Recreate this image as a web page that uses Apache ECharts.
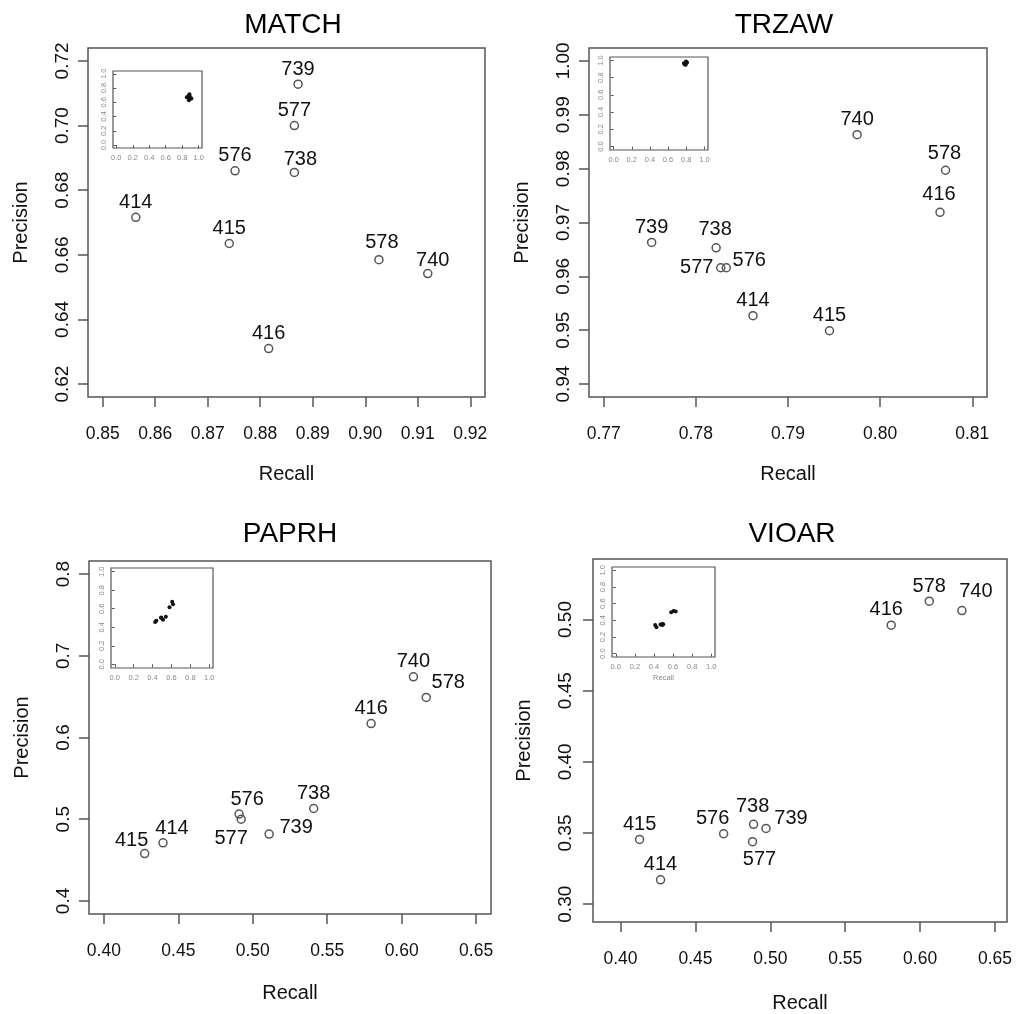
<!DOCTYPE html>
<html>
<head>
<meta charset="utf-8">
<script src="https://cdn.jsdelivr.net/npm/echarts@6/dist/echarts.min.js"></script>
<style>html,body{margin:0;padding:0;background:#fff}#c{width:1018px;height:1014px}</style>
</head>
<body>
<div id="c"></div>
<script>
// ---- data ----
const sites = ['414','415','416','576','577','578','738','739','740'];

const matchRecall    = [0.8563, 0.8741, 0.8816, 0.8752, 0.8865, 0.9026, 0.8865, 0.8872, 0.9119];
const matchPrecision = [0.6716, 0.6635, 0.6310, 0.6860, 0.7000, 0.6585, 0.6855, 0.7128, 0.6542];

const trzawRecall    = [0.7862, 0.7945, 0.8065, 0.7833, 0.7827, 0.8071, 0.7822, 0.7752, 0.7975];
const trzawPrecision = [0.9527, 0.9499, 0.9719, 0.9616, 0.9616, 0.9797, 0.9653, 0.9663, 0.9863];

const paprhRecall    = [0.4397, 0.4274, 0.5795, 0.4908, 0.4922, 0.6165, 0.5409, 0.5110, 0.6079];
const paprhPrecision = [0.4711, 0.4580, 0.6171, 0.5063, 0.5001, 0.6490, 0.5131, 0.4818, 0.6743];

const vioarRecall    = [0.4267, 0.4127, 0.5807, 0.4688, 0.4881, 0.6061, 0.4888, 0.4971, 0.6279];
const vioarPrecision = [0.3171, 0.3455, 0.4960, 0.3495, 0.3439, 0.5129, 0.3561, 0.3532, 0.5063];

const matchXTicks = [0.85, 0.86, 0.87, 0.88, 0.89, 0.90, 0.91, 0.92];
const matchYTicks = [0.62, 0.64, 0.66, 0.68, 0.70, 0.72];
const trzawXTicks = [0.77, 0.78, 0.79, 0.80, 0.81];
const trzawYTicks = [0.94, 0.95, 0.96, 0.97, 0.98, 0.99, 1.00];
const paprhXTicks = [0.40, 0.45, 0.50, 0.55, 0.60, 0.65];
const paprhYTicks = [0.4, 0.5, 0.6, 0.7, 0.8];
const vioarXTicks = [0.40, 0.45, 0.50, 0.55, 0.60, 0.65];
const vioarYTicks = [0.30, 0.35, 0.40, 0.45, 0.50];
const insetTicks  = [0.0, 0.2, 0.4, 0.6, 0.8, 1.0];

// ---- layout / style ----
const FONT = '"Liberation Sans", Arial, sans-serif';
const panels = [
  {title:'MATCH', recall:matchRecall, precision:matchPrecision, xt:matchXTicks, yt:matchYTicks, xd:2, yd:2,
   xr:[0.8472,0.9228], yr:[0.616,0.724],
   grid:{left:88, top:48, width:397, height:349}, inset:{left:113, top:71, width:89, height:77},
   titlePos:[288, 6], xMargin:28, xNameGap:67, yMargin:16, yNameGap:57, insetName:false,
   offsets:{'578':[3,-17],'738':[6,-13],'740':[5,-13]}},
  {title:'TRZAW', recall:trzawRecall, precision:trzawPrecision, xt:trzawXTicks, yt:trzawYTicks, xd:2, yd:2,
   xr:[0.7684,0.8116], yr:[0.9376,1.0024],
   grid:{left:589, top:48, width:398, height:349}, inset:{left:610, top:57, width:98, height:93},
   titlePos:[779, 6], xMargin:28, xNameGap:67, yMargin:16, yNameGap:57, insetName:false,
   offsets:{'577':[-24,0],'576':[23,-7],'738':[-1,-18],'416':[-1,-18],'578':[-1,-17]}},
  {title:'PAPRH', recall:paprhRecall, precision:paprhPrecision, xt:paprhXTicks, yt:paprhYTicks, xd:2, yd:1,
   xr:[0.39,0.66], yr:[0.384,0.816],
   grid:{left:89, top:561, width:402, height:353}, inset:{left:111, top:568, width:102, height:100},
   titlePos:[285, 515], xMargin:28, xNameGap:69, yMargin:16, yNameGap:57, insetName:false,
   offsets:{'578':[22,-15],'576':[8,-15],'577':[-10,19],'739':[27,-7],'414':[9,-14],'415':[-13,-13]}},
  {title:'VIOAR', recall:vioarRecall, precision:vioarPrecision, xt:vioarXTicks, yt:vioarYTicks, xd:2, yd:2,
   xr:[0.3816,0.658], yr:[0.2875,0.5425],
   grid:{left:593, top:559, width:414, height:363}, inset:{left:612, top:567, width:103, height:90},
   titlePos:[787, 515], xMargin:28, xNameGap:71, yMargin:18, yNameGap:59, insetName:true,
   offsets:{'740':[14,-19],'416':[-5,-16],'738':[-1,-18],'739':[25,-10],'576':[-11,-15],'577':[7,18]}}
];

const grids = [], xAxes = [], yAxes = [], series = [], titles = [];
const axisCol = '#555', textCol = '#111';

panels.forEach((p, i) => {
  const gi = grids.length;
  grids.push(Object.assign({show:true, borderColor:axisCol, borderWidth:1.5, backgroundColor:'#fff', containLabel:false}, p.grid));
  titles.push({text:p.title, left:p.titlePos[0], top:p.titlePos[1], textAlign:'center',
    textStyle:{fontFamily:FONT, fontSize:28, fontWeight:'normal', color:'#000'}});
  xAxes.push({type:'value', gridIndex:gi, min:p.xr[0], max:p.xr[1], name:'Recall', nameLocation:'middle', nameGap:p.xNameGap,
    nameTextStyle:{fontFamily:FONT, fontSize:20, color:textCol},
    axisLine:{show:false}, splitLine:{show:false},
    axisTick:{show:true, length:10, customValues:p.xt, lineStyle:{color:axisCol, width:1.5}},
    axisLabel:{customValues:p.xt, margin:p.xMargin, fontFamily:FONT, fontSize:17.5, color:textCol,
      formatter:v => v.toFixed(p.xd)}});
  yAxes.push({type:'value', gridIndex:gi, min:p.yr[0], max:p.yr[1], name:'Precision', nameLocation:'middle', nameGap:p.yNameGap,
    nameTextStyle:{fontFamily:FONT, fontSize:20, color:textCol},
    axisLine:{show:false}, splitLine:{show:false},
    axisTick:{show:true, length:10, customValues:p.yt, lineStyle:{color:axisCol, width:1.5}},
    axisLabel:{customValues:p.yt, margin:p.yMargin, rotate:90, fontFamily:FONT, fontSize:19, color:textCol,
      formatter:v => v.toFixed(p.yd)}});
  series.push({type:'scatter', xAxisIndex:gi, yAxisIndex:gi, symbol:'circle', symbolSize:8, silent:true,
    itemStyle:{color:'rgba(255,255,255,0)', borderColor:'#555', borderWidth:1.5, opacity:1},
    label:{show:true, position:'inside', formatter:'{b}', fontFamily:FONT, fontSize:20, color:'#111',
      textBorderWidth:0, opacity:1},
    data:sites.map((s, k) => ({name:s, value:[p.recall[k], p.precision[k]],
      label:{offset:p.offsets[s] || [0,-15]}}))});
});

panels.forEach((p, i) => {
  const gi = grids.length;
  grids.push(Object.assign({show:true, borderColor:axisCol, borderWidth:1.2, backgroundColor:'#fff', containLabel:false, z:5}, p.inset));
  const small = {fontFamily:FONT, fontSize:7.5, color:'#888'};
  xAxes.push({type:'value', gridIndex:gi, min:-0.04, max:1.04, z:5,
    name:p.insetName ? 'Recall' : '', nameLocation:'middle', nameGap:17, nameTextStyle:small,
    axisLine:{show:false}, splitLine:{show:false},
    axisTick:{show:true, length:3, customValues:insetTicks, lineStyle:{color:axisCol, width:1}},
    axisLabel:Object.assign({customValues:insetTicks, margin:6, formatter:v => v.toFixed(1)}, small)});
  yAxes.push({type:'value', gridIndex:gi, min:-0.04, max:1.04, z:5,
    axisLine:{show:false}, splitLine:{show:false},
    axisTick:{show:true, length:3, customValues:insetTicks, lineStyle:{color:axisCol, width:1}},
    axisLabel:Object.assign({customValues:insetTicks, margin:5, rotate:90, formatter:v => v.toFixed(1)}, small)});
  series.push({type:'scatter', xAxisIndex:gi, yAxisIndex:gi, symbol:'circle', symbolSize:4, silent:true, z:6,
    itemStyle:{color:'#111', opacity:1},
    data:sites.map((s, k) => [p.recall[k], p.precision[k]])});
});

const chart = echarts.init(document.getElementById('c'), null, {renderer:'canvas'});
chart.setOption({animation:false, backgroundColor:'#fff', title:titles, grid:grids, xAxis:xAxes, yAxis:yAxes, series:series});
</script>
</body>
</html>
